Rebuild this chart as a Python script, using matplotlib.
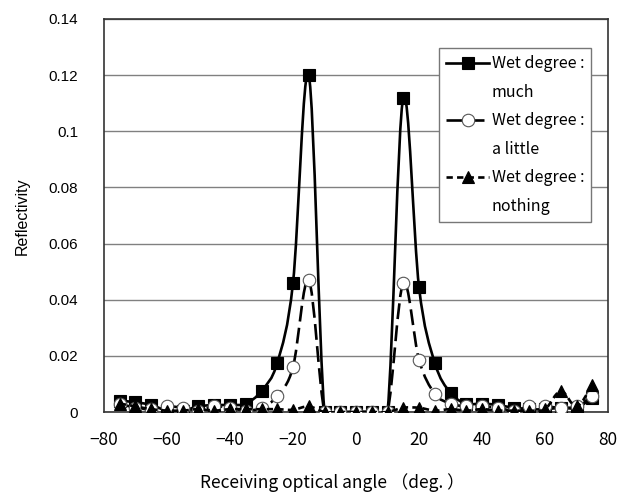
import matplotlib
matplotlib.use("Agg")
import matplotlib.pyplot as plt
from matplotlib.path import Path
from matplotlib.patches import PathPatch
from matplotlib.lines import Line2D
import numpy as np

angles = list(range(-75, 80, 5))
much = [0.004, 0.0035, 0.0025, 0.0005, 0.0005, 0.002, 0.0025, 0.0025, 0.003, 0.0075,
        0.0175, 0.046, 0.120, 0, 0, 0, 0, 0, 0.112, 0.0445,
        0.0175, 0.0068, 0.003, 0.003, 0.0025, 0.0015, 0.001, 0.001, 0.0015, 0.0015, 0.005]
little = [0.003, 0.0015, 0.001, 0.002, 0.0015, 0.0005, 0.002, 0.0015, 0.0005, 0.0015,
          0.0057, 0.016, 0.047, 0, 0, 0, 0, 0, 0.046, 0.0186,
          0.0065, 0.003, 0.002, 0.002, 0.0015, 0.0005, 0.002, 0.002, 0.0015, 0.002, 0.0057]
nothing = [0.003, 0.002, 0.001, 0.0005, 0.0005, 0.001, 0.0005, 0.001, 0.001, 0.001,
           0.001, 0.0008, 0.002, 0, 0, 0, 0, 0, 0.0015, 0.0015,
           0.0005, 0.001, 0.0005, 0.001, 0.0005, 0.0005, 0.0005, 0.001, 0.0075, 0.002, 0.0095]
series_names = ["much", "a little", "nothing"]
legend_prefix = "Wet degree :"
xticks = [-80, -60, -40, -20, 0, 20, 40, 60, 80]
yticks = [0, 0.02, 0.04, 0.06, 0.08, 0.1, 0.12, 0.14]
ytick_labels = ["0", "0.02", "0.04", "0.06", "0.08", "0.1", "0.12", "0.14"]
xlabel = "Receiving optical angle （deg. ）"
ylabel = "Reflectivity"

jp = ['Noto Sans CJK JP', 'DejaVu Sans']


def smooth_path(xs, ys):
    """Catmull-Rom style Bezier path through the data points (Excel smoothed line)."""
    P = np.column_stack([xs, ys]).astype(float)
    n = len(P)
    verts = [P[0]]
    codes = [Path.MOVETO]
    for i in range(n - 1):
        p0 = P[i - 1] if i > 0 else P[i]
        p1 = P[i]
        p2 = P[i + 1]
        p3 = P[i + 2] if i + 2 < n else P[i + 1]
        c1 = p1 + (p2 - p0) / 6.0
        c2 = p2 - (p3 - p1) / 6.0
        verts += [c1, c2, p2]
        codes += [Path.CURVE4] * 3
    return Path(verts, codes)


fig = plt.figure(figsize=(6.32, 5.01), dpi=100)
ax = fig.add_axes([104/632, 1-412/501, (608-104)/632, (412-19)/501])

styles = [
    dict(ls='-', marker='s', ms=9, mfc='black', mec='black', mew=0.8),
    dict(ls=(0, (6, 2.4)), marker='o', ms=9, mfc='white', mec='#555555', mew=0.8),
    dict(ls=(0, (2.4, 1.6)), marker='^', ms=8.5, mfc='black', mec='black', mew=0.8),
]
handles = []
for k, (ys, st) in enumerate(zip([much, little, nothing], styles)):
    patch = PathPatch(smooth_path(angles, ys), fill=False, edgecolor='black', lw=1.9,
                      linestyle=st['ls'], transform=ax.transData, zorder=3 + k, capstyle='butt')
    ax.add_patch(patch)
    ax.plot(angles, ys, ls='none', marker=st['marker'], ms=st['ms'], mfc=st['mfc'],
            mec=st['mec'], mew=st['mew'], zorder=3.5 + k)
    handles.append(Line2D([], [], color='black', lw=1.9, ls=st['ls'], marker=st['marker'],
                          ms=st['ms'], mfc=st['mfc'], mec=st['mec'], mew=st['mew']))

ax.set_xlim(-80, 80)
ax.set_ylim(0, 0.14)
ax.set_xticks(xticks)
ax.set_xticklabels([("\u2212%d" % -v) if v < 0 else str(v) for v in xticks],
                   family=jp, fontsize=12.5)
ax.set_yticks(yticks)
ax.set_yticklabels(ytick_labels, family='Liberation Sans', fontsize=11)
ax.tick_params(length=0)
ax.tick_params(axis='y', pad=18.5)
ax.tick_params(axis='x', pad=14)
ax.grid(axis='y', color='#808080', lw=1.0)
ax.set_axisbelow(True)
for s in ax.spines.values():
    s.set_color('#333333')
    s.set_linewidth(1.2)

fig.text(332/632, 1-483/501, xlabel, ha='center', va='center', family=jp, fontsize=12.5)
fig.text(22/632, 1-216/501, ylabel, ha='center', va='center', rotation=90,
         family='Liberation Sans', fontsize=11.5)

blank = Line2D([], [], lw=0, alpha=0)
leg_handles = []
leg_labels = []
for h, nm in zip(handles, series_names):
    leg_handles += [h, blank]
    leg_labels += [legend_prefix, nm]

leg = ax.legend(leg_handles, leg_labels, loc='upper left',
                bbox_to_anchor=((439-104)/504, 1-(48-19)/393),
                prop={'family': jp, 'size': 11.5}, frameon=True, fancybox=False,
                edgecolor='#777777', framealpha=1, handlelength=2.7, handletextpad=0.15,
                labelspacing=0.72, borderpad=0.45, borderaxespad=0)
leg.get_frame().set_linewidth(1.0)

fig.savefig("out.png", dpi=100)
